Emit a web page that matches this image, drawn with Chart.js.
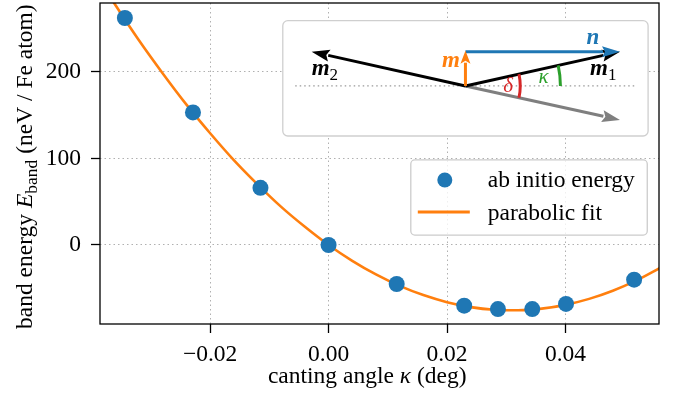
<!DOCTYPE html>
<html>
<head>
<meta charset="utf-8">
<script src="https://cdn.jsdelivr.net/npm/chart.js@4.4.0/dist/chart.umd.min.js"></script>
<style>
  html, body { margin: 0; padding: 0; background: #fff; }
  #wrap { width: 678px; height: 405px; }
</style>
</head>
<body>
<div id="wrap"><canvas id="chart" width="678" height="405"></canvas></div>
<script>
// ab initio band energies per canting step
const kappa  = [-0.0344, -0.0229, -0.0115, 0.0, 0.0115, 0.0229, 0.0286, 0.0344, 0.0401, 0.0516];
const energy = [262, 153, 66, 0, -45, -70, -74, -74, -68, -40];

// parabolic fit, sampled along the axis
const fitKappa  = [-0.040, -0.036, -0.032, -0.028, -0.024, -0.020, -0.016, -0.012, -0.008, -0.004,
                   0.000, 0.004, 0.008, 0.012, 0.016, 0.020, 0.024, 0.028, 0.032, 0.036,
                   0.040, 0.044, 0.048, 0.052, 0.056];
const fitEnergy = [320, 277, 236, 198, 162, 129, 98, 70, 44, 21,
                   0, -18.3, -34, -47.2, -57.8, -66, -71.7, -74.8, -75.4, -73.5,
                   -69.1, -62.2, -52.8, -40.9, -26.4];

const kappaTicks  = [-0.02, 0.00, 0.02, 0.04];
const energyTicks = [0, 100, 200];

const SERIF = '"Liberation Serif", "Times New Roman", serif';
const FS = 23.5;
const BLUE = '#1f77b4', ORANGE = '#ff7f0e', GREEN = '#2ca02c', RED = '#d62728', GREY = '#7f7f7f';

// text made of several runs (italic symbols, subscripts)
function drawRuns(ctx, runs, x, y, align) {
  let total = 0;
  runs.forEach(r => { ctx.font = r.font; r.w = ctx.measureText(r.t).width; total += r.w; });
  let cx = align === 'center' ? x - total / 2 : align === 'right' ? x - total : x;
  ctx.textAlign = 'left';
  ctx.textBaseline = 'alphabetic';
  runs.forEach(r => {
    ctx.fillStyle = r.color || ctx.fillStyle;
    ctx.font = r.font;
    ctx.fillText(r.t, cx, y + (r.dy || 0));
    cx += r.w;
  });
}

function arrow(ctx, x1, y1, x2, y2, color, lw, hl, hw) {
  const a = Math.atan2(y2 - y1, x2 - x1);
  const c = Math.cos(a), s = Math.sin(a);
  const bx = x2 - hl * c, by = y2 - hl * s;
  ctx.strokeStyle = color;
  ctx.fillStyle = color;
  ctx.lineWidth = lw;
  ctx.lineCap = 'butt';
  ctx.setLineDash([]);
  ctx.beginPath(); ctx.moveTo(x1, y1); ctx.lineTo(bx + c, by + s); ctx.stroke();
  ctx.beginPath();
  ctx.moveTo(x2, y2);
  ctx.lineTo(bx + hw / 2 * s, by - hw / 2 * c);
  ctx.lineTo(bx + 3 * c, by + 3 * s);
  ctx.lineTo(bx - hw / 2 * s, by + hw / 2 * c);
  ctx.closePath();
  ctx.fill();
}

function roundBox(ctx, x, y, w, h, r, fill, stroke) {
  ctx.beginPath();
  ctx.roundRect(x, y, w, h, r);
  ctx.fillStyle = fill; ctx.fill();
  ctx.strokeStyle = stroke; ctx.lineWidth = 1.3; ctx.setLineDash([]); ctx.stroke();
}

const background = {
  id: 'background',
  beforeDraw(chart) {
    const ctx = chart.ctx;
    ctx.save();
    ctx.fillStyle = '#fff';
    ctx.fillRect(0, 0, chart.width, chart.height);
    ctx.restore();
  }
};

// legend box in the lower right of the plot
const legendBox = {
  id: 'legendBox',
  afterDatasetsDraw(chart) {
    const { ctx, chartArea: a } = chart;
    const W = a.right - a.left, H = a.bottom - a.top;
    const x = a.left + 0.556 * W, y = a.top + 0.489 * H;
    const w = 0.423 * W, h = 0.234 * H;
    ctx.save();
    roundBox(ctx, x, y, w, h, 4, 'rgba(255,255,255,0.8)', '#cccccc');
    const pts = chart.data.datasets[0], fit = chart.data.datasets[1];
    ctx.fillStyle = pts.backgroundColor;
    ctx.beginPath(); ctx.arc(x + 34, y + 20, 7.5, 0, 2 * Math.PI); ctx.fill();
    ctx.strokeStyle = fit.borderColor; ctx.lineWidth = 3;
    ctx.beginPath(); ctx.moveTo(x + 7, y + 52); ctx.lineTo(x + 59, y + 52); ctx.stroke();
    ctx.fillStyle = '#000';
    ctx.font = FS + 'px ' + SERIF;
    ctx.textAlign = 'left'; ctx.textBaseline = 'alphabetic';
    ctx.fillText(pts.label, x + 77, y + 27);
    ctx.fillText(fit.label, x + 77, y + 60);
    ctx.restore();
  }
};

// sketch of the canted moments in the upper right
const sketch = {
  id: 'sketch',
  afterDatasetsDraw(chart) {
    const { ctx, chartArea: a } = chart;
    const W = a.right - a.left, H = a.bottom - a.top;
    const bx = a.left + 0.327 * W, by = a.top + 0.0551 * H;
    const bw = 0.6535 * W, bh = 0.3592 * H;
    const P = (fx, fy) => [bx + fx * bw, by + fy * bh];
    ctx.save();
    roundBox(ctx, bx, by, bw, bh, 5, '#fff', '#cfcfcf');

    const O = P(0.5, 0.566);
    const m1 = P(0.923, 0.269), m2 = P(0.079, 0.269);
    const nStart = P(0.5, 0.269), down = P(0.923, 0.861);

    // reference direction
    const d0 = P(0.034, 0.566), d1 = P(0.965, 0.566);
    ctx.strokeStyle = '#9a9a9a'; ctx.lineWidth = 1.2; ctx.setLineDash([1.5, 3]);
    ctx.beginPath(); ctx.moveTo(d0[0], d0[1]); ctx.lineTo(d1[0], d1[1]); ctx.stroke();

    arrow(ctx, O[0], O[1], down[0], down[1], GREY, 3, 18, 12);
    arrow(ctx, O[0], O[1], m2[0], m2[1], '#000', 3, 18, 12);
    arrow(ctx, O[0], O[1], m1[0], m1[1], '#000', 3, 18, 12);
    arrow(ctx, nStart[0], nStart[1], m1[0], m1[1], BLUE, 3, 18, 11);
    arrow(ctx, O[0], O[1], nStart[0], nStart[1] - 1, ORANGE, 3, 13, 10);

    // angles
    const a1 = Math.atan2(m1[1] - O[1], m1[0] - O[0]);
    const a2 = Math.atan2(down[1] - O[1], down[0] - O[0]);
    ctx.lineWidth = 3; ctx.setLineDash([]);
    ctx.strokeStyle = GREEN;
    ctx.beginPath(); ctx.arc(O[0], O[1], 0.26 * bw, a1, 0); ctx.stroke();
    ctx.strokeStyle = RED;
    ctx.beginPath(); ctx.arc(O[0], O[1], 0.15 * bw, a1, a2); ctx.stroke();

    const bi = 'italic bold 23px ' + SERIF, sub = '17px ' + SERIF, it = 'italic 21px ' + SERIF;
    let p = P(0.849, 0.202);
    drawRuns(ctx, [{ t: 'n', font: bi, color: BLUE }], p[0], p[1], 'center');
    p = P(0.485, 0.399);
    drawRuns(ctx, [{ t: 'm', font: bi, color: ORANGE }], p[0], p[1], 'right');
    p = P(0.841, 0.471);
    drawRuns(ctx, [{ t: 'm', font: bi, color: '#000' }, { t: '1', font: sub, dy: 5 }], p[0], p[1], 'left');
    p = P(0.079, 0.471);
    drawRuns(ctx, [{ t: 'm', font: bi, color: '#000' }, { t: '2', font: sub, dy: 5 }], p[0], p[1], 'left');
    p = P(0.617, 0.615);
    drawRuns(ctx, [{ t: 'δ', font: it, color: RED }], p[0], p[1], 'center');
    p = P(0.714, 0.537);
    drawRuns(ctx, [{ t: 'κ', font: it, color: GREEN }], p[0], p[1], 'center');
    ctx.restore();
  }
};

// axes frame and axis titles
const frame = {
  id: 'frame',
  afterDraw(chart) {
    const { ctx, chartArea: a } = chart;
    const W = a.right - a.left, H = a.bottom - a.top;
    ctx.save();
    ctx.strokeStyle = '#000'; ctx.lineWidth = 1.3; ctx.setLineDash([]);
    ctx.strokeRect(a.left, a.top, W, H);

    ctx.fillStyle = '#000';
    drawRuns(ctx, [
      { t: 'canting angle ', font: FS + 'px ' + SERIF },
      { t: 'κ', font: 'italic ' + FS + 'px ' + SERIF },
      { t: ' (deg)', font: FS + 'px ' + SERIF }
    ], a.left + 0.478 * W, a.bottom + 59, 'center');

    ctx.translate(31.5, a.top + 0.51 * H);
    ctx.rotate(-Math.PI / 2);
    drawRuns(ctx, [
      { t: 'band energy ', font: FS + 'px ' + SERIF },
      { t: 'E', font: 'italic ' + FS + 'px ' + SERIF },
      { t: 'band', font: '17.5px ' + SERIF, dy: 5 },
      { t: ' (neV / Fe atom)', font: FS + 'px ' + SERIF }
    ], 0, 0, 'center');
    ctx.restore();
  }
};

const gridStyle = { color: '#b0b0b0', lineWidth: 1, tickColor: '#000', tickWidth: 1.3, tickLength: 9 };

new Chart(document.getElementById('chart'), {
  type: 'scatter',
  data: {
    datasets: [
      {
        label: 'ab initio energy',
        data: kappa.map((k, i) => ({ x: k, y: energy[i] })),
        backgroundColor: BLUE,
        borderWidth: 0,
        pointRadius: 8,
        order: 0
      },
      {
        label: 'parabolic fit',
        data: fitKappa.map((k, i) => ({ x: k, y: fitEnergy[i] })),
        showLine: true,
        borderColor: ORANGE,
        borderWidth: 2.6,
        pointRadius: 0,
        cubicInterpolationMode: 'monotone',
        order: 1
      }
    ]
  },
  options: {
    responsive: false,
    animation: false,
    devicePixelRatio: 1,
    layout: { autoPadding: false, padding: { left: 0, right: 19, top: 3, bottom: 0 } },
    plugins: { legend: { display: false }, tooltip: { enabled: false } },
    scales: {
      x: {
        type: 'linear', min: -0.0386, max: 0.0558,
        afterBuildTicks: s => { s.ticks = kappaTicks.map(v => ({ value: v })); },
        afterFit: s => { s.height = 81; s.paddingLeft = 0; s.paddingRight = 0; },
        ticks: {
          font: { family: SERIF, size: FS }, color: '#000', padding: 8,
          maxRotation: 0, autoSkip: false,
          callback: v => (v < 0 ? '\u2212' : '') + Math.abs(v).toFixed(2)
        },
        grid: gridStyle,
        border: { display: false, dash: [1.5, 3] }
      },
      y: {
        type: 'linear', min: -91.2, max: 279.3,
        afterBuildTicks: s => { s.ticks = energyTicks.map(v => ({ value: v })); },
        afterFit: s => { s.width = 100; s.paddingTop = 0; s.paddingBottom = 0; },
        ticks: {
          font: { family: SERIF, size: FS }, color: '#000', padding: 10,
          callback: v => String(v)
        },
        grid: gridStyle,
        border: { display: false, dash: [1.5, 3] }
      }
    }
  },
  plugins: [background, legendBox, sketch, frame]
});
</script>
</body>
</html>
